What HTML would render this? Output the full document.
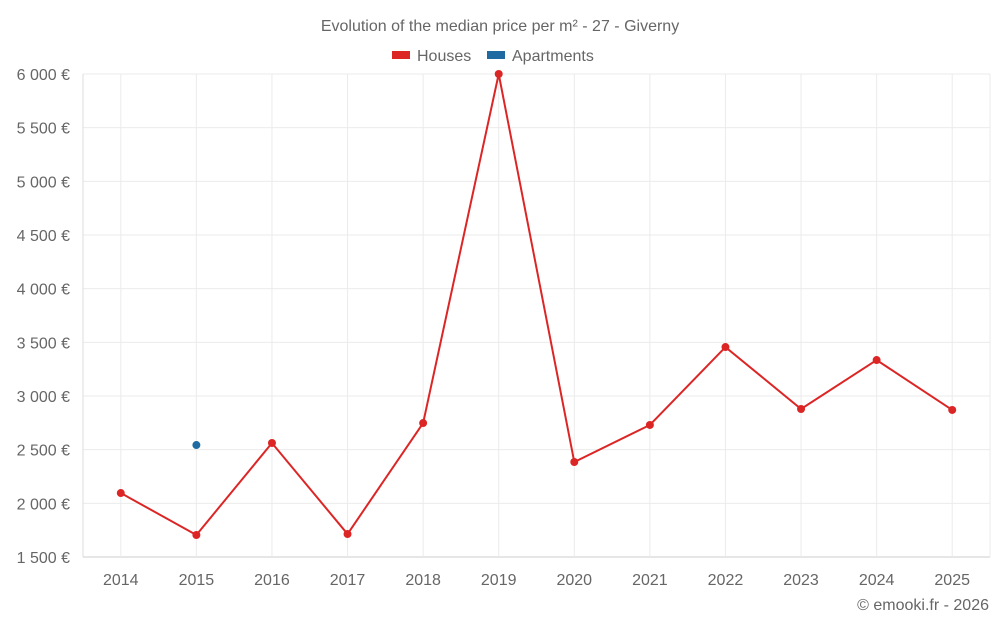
<!DOCTYPE html>
<html><head><meta charset="utf-8"><style>
html,body{margin:0;padding:0;background:#fff;width:1000px;height:625px;overflow:hidden}
svg{display:block;font-family:"Liberation Sans",sans-serif}
</style></head><body>
<svg id="c" width="1000" height="625"></svg>
<script>
const categories=["2014","2015","2016","2017","2018","2019","2020","2021","2022","2023","2024","2025"];
const housesValues=[2096,1705,2562,1714,2748,6000,2385,2730,3456,2879,3335,2870];
const apartmentsValues=[null,2543,null,null,null,null,null,null,null,null,null,null];
const yTicks=[1500,2000,2500,3000,3500,4000,4500,5000,5500,6000];
const yTickLabels=["1 500 €","2 000 €","2 500 €","3 000 €","3 500 €","4 000 €","4 500 €","5 000 €","5 500 €","6 000 €"];
const NS="http://www.w3.org/2000/svg";
const svg=document.getElementById('c');
const L=83,R=990,T=74,B=557,yMin=1500,yMax=6000;
const bw=(R-L)/categories.length;
function xS(i){return L+bw*(i+0.5);}
function yS(v){return B-(v-yMin)/(yMax-yMin)*(B-T);}
function el(t,a,p){const e=document.createElementNS(NS,t);for(const k in a)e.setAttribute(k,a[k]);(p||svg).appendChild(e);return e;}
function txt(s,a){const e=el('text',a);e.textContent=s;return e;}
const title=txt("Evolution of the median price per m² - 27 - Giverny",{x:500,y:31,'text-anchor':'middle','font-size':16,fill:'#666'});


const lh=el('rect',{x:392,y:51,width:18,height:8,fill:'#dc2626'});


const lht=txt("Houses",{x:417,y:61,'font-size':16,fill:'#666'});


const la=el('rect',{x:487,y:51,width:18,height:8,fill:'#1f6aa0'});


const lat=txt("Apartments",{x:512,y:61,'font-size':16,fill:'#666'});


yTicks.forEach((v,i)=>{
 const g=el('line',{x1:L,x2:R,y1:yS(v),y2:yS(v),stroke:i==0?'#ccc':'#ebebeb','stroke-width':1});
 
 
 const t=txt(yTickLabels[i],{x:70,y:yS(v)+6,'text-anchor':'end','font-size':16,fill:'#666'});
 
 
});
categories.forEach((c,i)=>{
 const g=el('line',{x1:xS(i),x2:xS(i),y1:T,y2:B,stroke:'#ebebeb'});
 
 
 const t=txt(c,{x:xS(i),y:585,'text-anchor':'middle','font-size':16,fill:'#666'});
 
 
});
const la1=el('line',{x1:L,x2:L,y1:T,y2:B,stroke:'#ddd'});


const la2=el('line',{x1:R,x2:R,y1:T,y2:B,stroke:'#ebebeb'});


const pts=housesValues.map((v,i)=>v==null?null:[xS(i),yS(v)]).filter(p=>p);
const line=el('polyline',{points:pts.map(p=>p.join(',')).join(' '),fill:'none',stroke:'#dc2626','stroke-width':2});


housesValues.forEach((v,i)=>{if(v==null)return;
 const d=el('circle',{cx:xS(i),cy:yS(v),r:4,fill:'#dc2626'});
 
 
});
apartmentsValues.forEach((v,i)=>{if(v==null)return;
 const d=el('circle',{cx:xS(i),cy:yS(v),r:4,fill:'#1f6aa0'});
 
 
});
const cr=txt("© emooki.fr - 2026",{x:989,y:610,'text-anchor':'end','font-size':16,fill:'#666'});


</script>
</body></html>
